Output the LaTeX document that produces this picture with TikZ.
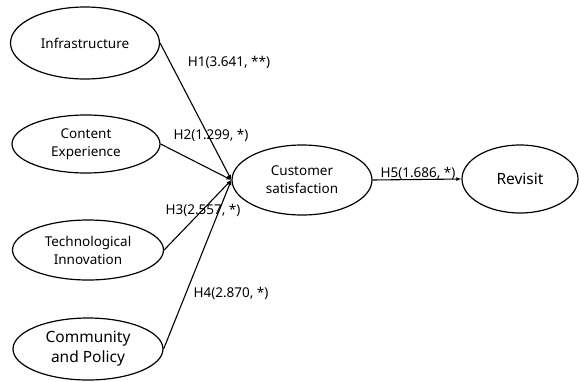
\documentclass[tikz,border=0pt]{standalone}
\usepackage{fontspec}
\setmainfont{Noto Sans}
\usetikzlibrary{shapes.geometric,arrows.meta}

\begin{document}
\begin{tikzpicture}[x=1pt,y=-1pt,
	factor/.style={draw,ellipse,line width=1.2pt,inner sep=0pt,align=center,
		font=\fontsize{13.5}{18}\selectfont},
	bigfactor/.style={factor,font=\fontsize{15.5}{20}\selectfont},
	effect/.style={line width=1.1pt,-{Latex[length=5pt,width=4pt]}},
	hlabel/.style={font=\fontsize{13.5}{15}\selectfont}]

	\useasboundingbox (0,0) rectangle (579,381);

	\node[factor,minimum width=149pt,minimum height=72pt] (infra) at (85,43) {Infrastructure};
	\node[factor,minimum width=148pt,minimum height=58pt] (content) at (86,144) {Content\\Experience};
	\node[factor,minimum width=151pt,minimum height=60pt] (tech) at (88,250) {Technological\\Innovation};
	\node[bigfactor,minimum width=150pt,minimum height=62pt] (comm) at (88,349) {Community\\and Policy};
	\node[factor,minimum width=140pt,minimum height=70pt] (sat) at (302,180) {Customer\\satisfaction};
	\node[bigfactor,minimum width=116pt,minimum height=68pt] (revisit) at (520,179) {Revisit};

	\draw[effect] (infra.east) -- (sat.west);
	\draw[effect] (content.east) -- (sat.west);
	\draw[effect] (tech.east) -- (sat.west);
	\draw[effect] (comm.east) -- (sat.west);
	\draw[effect] (sat.east) -- (revisit.west);

	\node[hlabel] (h1) at (229,62) {H1(3.641, **)};
	\node[hlabel] (h2) at (211,135) {H2(1.299, *)};
	\node[hlabel] (h3) at (203,210) {H3(2.557, *)};
	\node[hlabel] (h4) at (231,293) {H4(2.870, *)};
	\node[hlabel] (h5) at (418,173) {H5(1.686, *)};

\end{tikzpicture}
\end{document}
